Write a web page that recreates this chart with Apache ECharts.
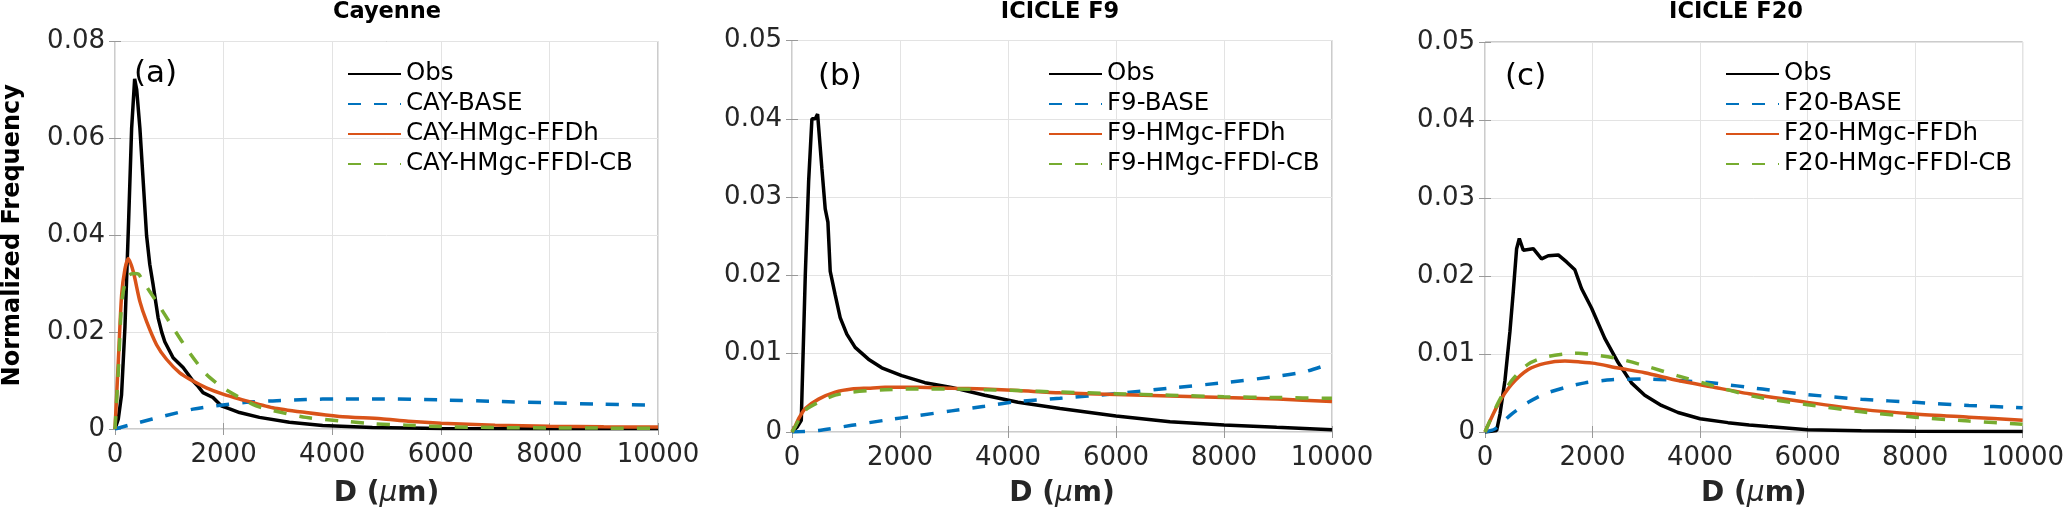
<!DOCTYPE html>
<html><head><meta charset="utf-8">
<script src="https://cdn.jsdelivr.net/npm/echarts@6/dist/echarts.min.js"></script>
<style>html,body{margin:0;padding:0;background:#fff}#c{width:2067px;height:513px}</style>
</head><body><div id="c"></div>
<script>
// ---------- data (D in micrometres, normalized frequency) ----------
const xTicks = [0, 2000, 4000, 6000, 8000, 10000];
const panelTitles = ['Cayenne', 'ICICLE F9', 'ICICLE F20'];
const panelTags = ['(a)', '(b)', '(c)'];
const yMaxes = [0.08, 0.05, 0.05];
const yIntervals = [0.02, 0.01, 0.01];
const namesA = ['Obs', 'CAY-BASE', 'CAY-HMgc-FFDh', 'CAY-HMgc-FFDl-CB'];
const namesB = ['Obs', 'F9-BASE', 'F9-HMgc-FFDh', 'F9-HMgc-FFDl-CB'];
const namesC = ['Obs', 'F20-BASE', 'F20-HMgc-FFDh', 'F20-HMgc-FFDl-CB'];

const obsA = [[0,0],[60,0.002],[120,0.007],[183,0.021],[245,0.041],[306,0.062],[362,0.0723],[400,0.070],[459,0.062],[520,0.051],[581,0.040],[640,0.034],[703,0.0297],[795,0.0229],[860,0.020],[917,0.018],[1070,0.0147],[1254,0.0127],[1437,0.0099],[1530,0.0088],[1621,0.0075],[1804,0.0065],[1957,0.0048],[2100,0.0042],[2293,0.0034],[2660,0.0024],[3211,0.0014],[3823,0.0007],[4740,0.0003],[6000,0.0001],[8000,0.00005],[10000,0.00003]];
const baseA = [[0,0],[459,0.0014],[917,0.0027],[1437,0.0041],[1865,0.0048],[2416,0.0055],[2905,0.0058],[3517,0.0061],[4128,0.0062],[4900,0.0062],[6000,0.0060],[7000,0.0057],[8000,0.0054],[9000,0.0051],[10000,0.0049]];
const ffdhA = [[0,0],[61,0.014],[122,0.0277],[183,0.033],[245,0.0352],[336,0.0325],[459,0.0263],[581,0.0222],[765,0.0174],[948,0.0144],[1193,0.0116],[1437,0.0099],[1682,0.0085],[1988,0.0072],[2293,0.0062],[2905,0.0044],[3517,0.0034],[4128,0.0026],[4900,0.0021],[5400,0.0016],[6000,0.0012],[7000,0.0008],[8000,0.00057],[9000,0.00045],[10000,0.0004]];
const ffdlA = [[0,0],[61,0.012],[122,0.026],[183,0.030],[260,0.0318],[350,0.0321],[430,0.0320],[520,0.0304],[765,0.0263],[1070,0.0209],[1376,0.0157],[1682,0.0113],[1988,0.0085],[2293,0.0065],[2599,0.0048],[2905,0.0038],[3517,0.0024],[4128,0.0017],[4740,0.0011],[5352,0.0008],[6000,0.0005],[7000,0.0003],[8000,0.00022],[9000,0.00018],[10000,0.00015]];

const obsB = [[0,0],[92,0.0006],[172,0.0015],[185,0.0049],[246,0.0200],[308,0.0320],[369,0.0400],[431,0.0400],[474,0.0406],[500,0.0408],[554,0.0336],[615,0.0285],[665,0.0268],[708,0.0205],[800,0.0175],[892,0.0146],[1015,0.0125],[1169,0.0108],[1415,0.0093],[1662,0.0082],[2031,0.0072],[2462,0.0063],[2954,0.0057],[3569,0.0047],[4185,0.0038],[4963,0.0030],[6000,0.00205],[7000,0.0013],[8000,0.0009],[8975,0.0006],[10000,0.0003]];
const baseB = [[0,0],[492,0.0002],[1108,0.00085],[1723,0.0015],[2338,0.0021],[2954,0.0027],[3569,0.0033],[4185,0.0039],[4963,0.0043],[6000,0.0049],[7000,0.0056],[8000,0.0063],[8975,0.0071],[9500,0.0077],[10000,0.0088]];
const ffdhB = [[0,0],[62,0.0008],[123,0.0017],[246,0.0030],[492,0.0042],[800,0.0051],[1108,0.0055],[1415,0.0056],[1723,0.0057],[2338,0.0057],[2954,0.0056],[3569,0.0055],[4185,0.0053],[4963,0.0050],[6000,0.0048],[7000,0.0046],[8000,0.0044],[9000,0.0042],[10000,0.0039]];
const ffdlB = [[0,0],[62,0.0007],[123,0.0015],[246,0.0028],[492,0.0038],[800,0.0047],[1108,0.0051],[1723,0.0054],[2338,0.0055],[2954,0.0055],[3569,0.0054],[4185,0.0053],[4963,0.0051],[6000,0.0049],[7000,0.0047],[8000,0.0045],[9000,0.0044],[10000,0.0043]];

const obsC = [[0,0],[217,0.0002],[279,0.0023],[371,0.0066],[464,0.0129],[526,0.018],[588,0.0235],[638,0.0248],[712,0.0233],[805,0.0234],[898,0.0235],[1052,0.0222],[1176,0.0226],[1362,0.0227],[1517,0.0218],[1671,0.0208],[1795,0.0184],[1981,0.0159],[2228,0.012],[2476,0.0089],[2724,0.0063],[2971,0.0047],[3281,0.0034],[3590,0.0025],[4000,0.0017],[4519,0.0012],[4913,0.0009],[5262,0.0007],[6000,0.0003],[7000,0.00015],[8000,0.0001],[10000,0.00005]];
const baseC = [[0,0],[186,0.0004],[495,0.0023],[805,0.0038],[1114,0.0049],[1486,0.0057],[1857,0.0063],[2352,0.0067],[2971,0.0068],[3590,0.0066],[4209,0.0063],[5160,0.0055],[6000,0.0048],[7000,0.0042],[8000,0.0038],[9000,0.0034],[10000,0.0031]];
const ffdhC = [[0,0],[248,0.0036],[495,0.0061],[805,0.0080],[1114,0.0088],[1486,0.0091],[1733,0.0090],[2043,0.0088],[2476,0.0082],[2971,0.0076],[3590,0.0066],[4209,0.0058],[4913,0.0049],[6000,0.0038],[7000,0.0029],[8000,0.0023],[9000,0.0019],[10000,0.0015]];
const ffdlC = [[0,0],[248,0.0038],[495,0.0066],[805,0.0087],[1114,0.0096],[1486,0.0100],[1733,0.0101],[2043,0.0099],[2476,0.0094],[2971,0.0085],[3590,0.0072],[4209,0.0060],[4975,0.0046],[6000,0.0035],[7000,0.0026],[8000,0.0019],[9000,0.0014],[10000,0.0010]];

// ---------- styling ----------
const FONT = "'DejaVu Sans', sans-serif";
const colors = ['#000000', '#0072BD', '#D95319', '#77AC30'];
const dashes = ['solid', [13, 13], 'solid', [13, 13]];
const grids = [
  {left: 113, top: 41.5, width: 545, height: 390},
  {left: 792, top: 40.5, width: 540, height: 394},
  {left: 1485, top: 42, width: 540, height: 393}
];
const legendLeft = [347, 1048, 1725];
const titleX = [387, 1060, 1736];
const tagX = [134, 818, 1505];
const tagY = [74, 77, 77];
const panelNames = [namesA, namesB, namesC];
const panelData = [[obsA, baseA, ffdhA, ffdlA], [obsB, baseB, ffdhB, ffdlB], [obsC, baseC, ffdhC, ffdlC]];

const xAxes = [], yAxes = [], series = [], legends = [], graphics = [];
for (let g = 0; g < 3; g++) {
  const common = {type: 'value', gridIndex: g, min: xTicks[0], max: xTicks[xTicks.length - 1], interval: xTicks[1] - xTicks[0]};
  xAxes.push(Object.assign({}, common, {
    position: 'bottom',
    axisLine: {show: false},
    axisTick: {show: true, inside: true, length: 6, lineStyle: {color: '#999'}},
    axisLabel: {fontFamily: FONT, fontSize: 26, color: '#262626', margin: 13, formatter: v => String(v)},
    splitLine: {show: true, lineStyle: {color: '#e3e3e3', width: 1}},
    name: '{b|D (}{i|μ}{b|m)}', nameLocation: 'middle', nameGap: g === 0 ? 51 : 48,
    nameTextStyle: {rich: {
      b: {fontFamily: FONT, fontWeight: 'bold', fontSize: 28, color: '#262626'},
      i: {fontFamily: FONT, fontStyle: 'italic', fontSize: 28, color: '#262626'}
    }}
  }));
  xAxes.push(Object.assign({}, common, {
    position: 'top', axisLine: {show: false}, axisLabel: {show: false}, splitLine: {show: false},
    axisTick: {show: true, inside: true, length: 6, lineStyle: {color: '#999'}}
  }));
  const yc = {type: 'value', gridIndex: g, min: 0, max: yMaxes[g], interval: yIntervals[g]};
  yAxes.push(Object.assign({}, yc, {
    position: 'left',
    axisLine: {show: false},
    axisTick: {show: true, inside: true, length: 6, lineStyle: {color: '#999'}},
    axisLabel: {fontFamily: FONT, fontSize: 26, color: '#262626', margin: 10},
    splitLine: {show: true, lineStyle: {color: '#e3e3e3', width: 1}},
    name: g === 0 ? 'Normalized Frequency' : '', nameLocation: 'middle', nameGap: 90,
    nameTextStyle: {fontFamily: FONT, fontWeight: 'bold', fontSize: 24, color: '#000'}
  }));
  yAxes.push(Object.assign({}, yc, {
    position: 'right', axisLine: {show: false}, axisLabel: {show: false}, splitLine: {show: false},
    axisTick: {show: true, inside: true, length: 6, lineStyle: {color: '#999'}}
  }));
  for (let s = 0; s < 4; s++) {
    series.push({
      type: 'line', name: panelNames[g][s], data: panelData[g][s],
      xAxisIndex: 2 * g, yAxisIndex: 2 * g,
      symbol: 'none', showSymbol: false, smooth: s === 0 ? false : 0.25,
      lineStyle: {color: colors[s], width: 3.5, type: dashes[s]},
      itemStyle: {color: colors[s]},
      z: 2 + s
    });
  }
  legends.push({
    data: panelNames[g], orient: 'vertical', left: legendLeft[g], top: 59,
    itemWidth: 53, itemHeight: 14, itemGap: 0, padding: 0, selectedMode: false,
    itemStyle: {opacity: 0, borderWidth: 0},
    textStyle: {fontFamily: FONT, fontSize: 24.5, lineHeight: 30, color: '#000'}
  });
  graphics.push({type: 'text', x: titleX[g], y: 12.5, z: 10,
    style: {text: panelTitles[g], fontFamily: FONT, fontWeight: 'bold', fontSize: 22.5, fill: '#000', align: 'center', verticalAlign: 'middle'}});
  graphics.push({type: 'text', x: tagX[g], y: tagY[g], z: 10,
    style: {text: panelTags[g], fontFamily: FONT, fontSize: 31, fill: '#000', align: 'left', verticalAlign: 'middle'}});
}

const chart = echarts.init(document.getElementById('c'), null, {renderer: 'canvas'});
chart.setOption({
  animation: false,
  backgroundColor: '#fff',
  grid: grids.map(r => Object.assign({show: true, borderColor: '#999', borderWidth: 1, backgroundColor: 'transparent'}, r)),
  xAxis: xAxes, yAxis: yAxes, series: series, legend: legends, graphic: graphics
});
</script></body></html>
